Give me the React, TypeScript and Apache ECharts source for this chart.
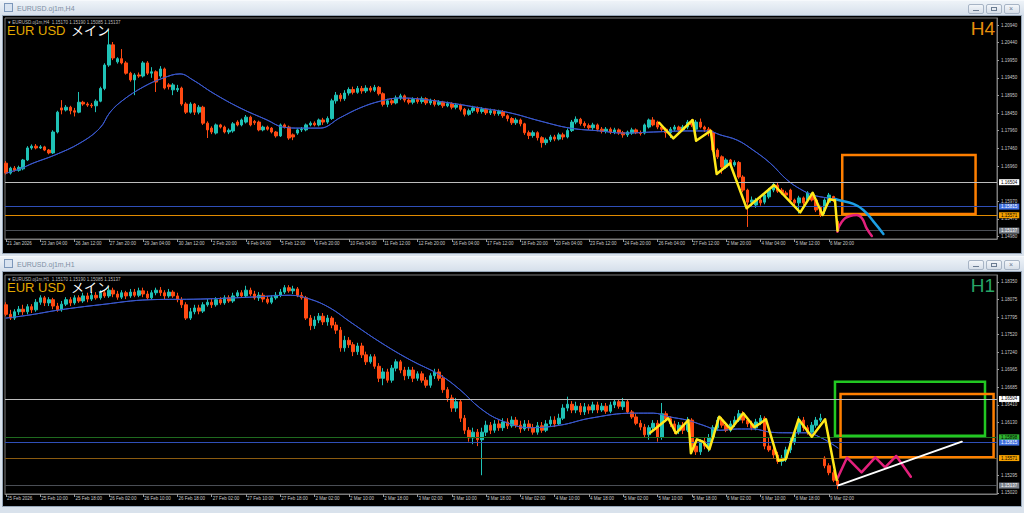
import React, { useEffect, useRef } from 'react';
import * as echarts from 'echarts';

// ---------------- DATA ----------------
const h4Dates = ['21 Jan 2026','23 Jan 04:00','26 Jan 12:00','27 Jan 20:00','29 Jan 04:00','30 Jan 12:00','2 Feb 20:00','4 Feb 04:00','5 Feb 12:00','6 Feb 20:00','10 Feb 04:00','11 Feb 12:00','12 Feb 20:00','16 Feb 04:00','17 Feb 12:00','18 Feb 20:00','20 Feb 04:00','23 Feb 12:00','24 Feb 20:00','26 Feb 04:00','27 Feb 12:00','2 Mar 20:00','4 Mar 04:00','5 Mar 12:00','6 Mar 20:00'];
const h1Dates = ['25 Feb 2026','25 Feb 10:00','25 Feb 18:00','26 Feb 02:00','26 Feb 10:00','26 Feb 18:00','27 Feb 02:00','27 Feb 10:00','27 Feb 18:00','2 Mar 02:00','2 Mar 10:00','2 Mar 18:00','3 Mar 02:00','3 Mar 10:00','3 Mar 18:00','4 Mar 02:00','4 Mar 10:00','4 Mar 18:00','5 Mar 02:00','5 Mar 10:00','5 Mar 18:00','6 Mar 02:00','6 Mar 10:00','6 Mar 18:00','9 Mar 02:00'];

const h4Ticks = [1.2094,1.2044,1.1995,1.1945,1.1895,1.1845,1.1796,1.1746,1.1696,1.1597,1.1547,1.1498];
const h1Ticks = [1.1835,1.18075,1.17795,1.1752,1.1724,1.16965,1.16685,1.1641,1.1613,1.15295,1.1502];

const h4Levels = [1.16504, 1.15815, 1.15571, 1.15137];
const h1Levels = [1.16504, 1.15898, 1.15815, 1.15571, 1.15137];

// H4 candles [open, close, low, high]
const h4Ohlc = [
[1.1704,1.1676,1.1672,1.1710],[1.1676,1.1690,1.1672,1.1694],[1.1690,1.1684,1.1680,1.1696],[1.1684,1.1692,1.1680,1.1697],[1.1688,1.1713,1.1684,1.1716],
[1.1713,1.1747,1.1710,1.1752],[1.1747,1.1752,1.1742,1.1757],[1.1752,1.1747,1.1743,1.1758],[1.1747,1.1750,1.1744,1.1755],[1.1750,1.1741,1.1738,1.1753],
[1.1741,1.1733,1.1729,1.1744],[1.1733,1.1792,1.1730,1.1797],[1.1792,1.1848,1.1788,1.1852],[1.1860,1.1854,1.1842,1.1882],[1.1854,1.1862,1.1850,1.1868],
[1.1862,1.1852,1.1842,1.1866],[1.1852,1.1848,1.1836,1.1860],[1.1848,1.1876,1.1845,1.1905],[1.1876,1.1871,1.1866,1.1880],[1.1871,1.1868,1.1863,1.1876],
[1.1868,1.1866,1.1860,1.1874],[1.1866,1.1879,1.1848,1.1884],[1.1879,1.1915,1.1876,1.1920],[1.1915,1.1981,1.1910,1.1986],[1.1981,1.2038,1.1976,1.2080],
[1.2038,1.2001,1.1995,1.2046],[1.1990,1.1999,1.1985,1.2003],[1.1999,1.1987,1.1983,1.2026],[1.1987,1.1958,1.1954,1.1992],[1.1958,1.1939,1.1934,1.1962],
[1.1939,1.1953,1.1896,1.1958],[1.1953,1.1950,1.1945,1.1960],[1.1950,1.1987,1.1946,1.1992],[1.1987,1.1958,1.1953,1.1992],[1.1958,1.1962,1.1945,1.1975],
[1.1962,1.1933,1.1905,1.1966],[1.1950,1.1970,1.1945,1.1978],[1.1970,1.1916,1.1912,1.1974],[1.1925,1.1920,1.1912,1.1930],[1.1911,1.1925,1.1896,1.1930],
[1.1911,1.1915,1.1905,1.1925],[1.1916,1.1871,1.1866,1.1920],[1.1871,1.1848,1.1843,1.1876],[1.1848,1.1871,1.1844,1.1876],[1.1871,1.1848,1.1840,1.1874],
[1.1848,1.1862,1.1842,1.1868],[1.1862,1.1817,1.1812,1.1866],[1.1817,1.1798,1.1775,1.1822],[1.1803,1.1792,1.1786,1.1808],[1.1789,1.1812,1.1785,1.1816],
[1.1812,1.1806,1.1802,1.1815],[1.1806,1.1792,1.1788,1.1810],[1.1792,1.1797,1.1786,1.1802],[1.1795,1.1815,1.1790,1.1820],[1.1820,1.1812,1.1808,1.1825],
[1.1812,1.1826,1.1808,1.1830],[1.1820,1.1834,1.1816,1.1840],[1.1834,1.1812,1.1808,1.1838],[1.1822,1.1818,1.1812,1.1826],[1.1820,1.1798,1.1794,1.1824],
[1.1798,1.1806,1.1794,1.1810],[1.1806,1.1800,1.1796,1.1810],[1.1803,1.1792,1.1788,1.1806],[1.1792,1.1781,1.1776,1.1795],[1.1781,1.1812,1.1778,1.1816],
[1.1812,1.1806,1.1802,1.1816],[1.1806,1.1775,1.1770,1.1810],[1.1784,1.1778,1.1769,1.1788],[1.1789,1.1798,1.1784,1.1802],[1.1798,1.1800,1.1792,1.1806],
[1.1798,1.1812,1.1794,1.1816],[1.1812,1.1817,1.1808,1.1822],[1.1817,1.1812,1.1808,1.1822],[1.1812,1.1826,1.1808,1.1830],[1.1826,1.1820,1.1812,1.1832],
[1.1820,1.1830,1.1815,1.1836],[1.1830,1.1880,1.1826,1.1886],[1.1880,1.1896,1.1872,1.1905],[1.1896,1.1886,1.1878,1.1902],[1.1886,1.1902,1.1880,1.1910],
[1.1902,1.1912,1.1895,1.1918],[1.1912,1.1904,1.1898,1.1920],[1.1904,1.1915,1.1900,1.1922],[1.1915,1.1908,1.1900,1.1922],[1.1908,1.1916,1.1902,1.1924],
[1.1916,1.1910,1.1904,1.1922],[1.1910,1.1918,1.1905,1.1925],[1.1918,1.1900,1.1895,1.1922],[1.1900,1.1870,1.1864,1.1904],[1.1870,1.1880,1.1862,1.1886],
[1.1880,1.1874,1.1868,1.1888],[1.1874,1.1888,1.1870,1.1895],[1.1888,1.1894,1.1882,1.1900],[1.1894,1.1882,1.1876,1.1898],[1.1882,1.1876,1.1870,1.1888],
[1.1876,1.1884,1.1870,1.1890],[1.1884,1.1878,1.1872,1.1890],[1.1878,1.1886,1.1872,1.1892],[1.1886,1.1874,1.1868,1.1890],[1.1874,1.1880,1.1868,1.1886],
[1.1880,1.1870,1.1864,1.1885],[1.1870,1.1876,1.1866,1.1882],[1.1876,1.1866,1.1860,1.1880],[1.1866,1.1872,1.1862,1.1878],[1.1872,1.1862,1.1856,1.1876],
[1.1862,1.1868,1.1856,1.1874],[1.1868,1.1856,1.1850,1.1872],[1.1856,1.1842,1.1836,1.1860],[1.1842,1.1852,1.1838,1.1858],[1.1852,1.1860,1.1846,1.1866],
[1.1860,1.1850,1.1844,1.1864],[1.1850,1.1856,1.1844,1.1862],[1.1856,1.1846,1.1840,1.1860],[1.1846,1.1852,1.1840,1.1858],[1.1852,1.1844,1.1838,1.1856],
[1.1844,1.1850,1.1838,1.1855],[1.1850,1.1838,1.1832,1.1854],[1.1838,1.1830,1.1822,1.1842],[1.1830,1.1818,1.1812,1.1834],[1.1818,1.1826,1.1812,1.1832],
[1.1826,1.1815,1.1808,1.1830],[1.1815,1.1790,1.1784,1.1818],[1.1790,1.1782,1.1772,1.1796],[1.1782,1.1790,1.1776,1.1796],[1.1790,1.1776,1.1768,1.1794],
[1.1776,1.1762,1.1748,1.1780],[1.1762,1.1770,1.1755,1.1776],[1.1770,1.1778,1.1764,1.1784],[1.1778,1.1772,1.1766,1.1784],[1.1772,1.1784,1.1768,1.1790],
[1.1784,1.1778,1.1770,1.1790],[1.1778,1.1796,1.1774,1.1802],[1.1796,1.1820,1.1792,1.1826],[1.1820,1.1828,1.1814,1.1836],[1.1828,1.1816,1.1810,1.1832],
[1.1816,1.1810,1.1804,1.1822],[1.1810,1.1804,1.1798,1.1816],[1.1804,1.1812,1.1798,1.1818],[1.1812,1.1800,1.1794,1.1816],[1.1800,1.1794,1.1788,1.1806],
[1.1794,1.1800,1.1788,1.1806],[1.1800,1.1792,1.1786,1.1805],[1.1792,1.1798,1.1786,1.1804],[1.1798,1.1790,1.1784,1.1802],[1.1790,1.1784,1.1776,1.1795],
[1.1784,1.1792,1.1778,1.1796],[1.1789,1.1798,1.1784,1.1804],[1.1798,1.1790,1.1786,1.1802],[1.1790,1.1788,1.1782,1.1796],[1.1789,1.1812,1.1785,1.1816],
[1.1806,1.1826,1.1802,1.1830],[1.1826,1.1812,1.1808,1.1834],[1.1820,1.1806,1.1800,1.1824],[1.1806,1.1800,1.1792,1.1810],[1.1800,1.1790,1.1776,1.1804],
[1.1790,1.1800,1.1775,1.1806],[1.1800,1.1806,1.1794,1.1812],[1.1806,1.1798,1.1794,1.1810],[1.1798,1.1806,1.1794,1.1812],[1.1806,1.1820,1.1800,1.1826],
[1.1820,1.1812,1.1806,1.1828],[1.1800,1.1820,1.1768,1.1826],[1.1820,1.1806,1.1802,1.1830],[1.1806,1.1800,1.1792,1.1810],[1.1800,1.1790,1.1780,1.1806],
[1.1790,1.1741,1.1736,1.1796],[1.1741,1.1722,1.1716,1.1746],[1.1722,1.1693,1.1674,1.1726],[1.1693,1.1713,1.1688,1.1718],[1.1713,1.1699,1.1694,1.1716],
[1.1699,1.1706,1.1694,1.1712],[1.1706,1.1665,1.1660,1.1710],[1.1665,1.1628,1.1622,1.1670],[1.1628,1.1594,1.1524,1.1632],[1.1594,1.1600,1.1580,1.1610],
[1.1586,1.1600,1.1578,1.1606],[1.1600,1.1592,1.1584,1.1606],[1.1594,1.1614,1.1588,1.1620],[1.1609,1.1628,1.1604,1.1634],[1.1628,1.1644,1.1622,1.1650],
[1.1642,1.1625,1.1620,1.1648],[1.1628,1.1620,1.1615,1.1634],[1.1620,1.1614,1.1608,1.1626],[1.1628,1.1600,1.1596,1.1632],[1.1600,1.1592,1.1586,1.1604],
[1.1592,1.1606,1.1562,1.1612],[1.1606,1.1592,1.1586,1.1610],[1.1600,1.1620,1.1595,1.1625],[1.1614,1.1600,1.1596,1.1620],[1.1600,1.1572,1.1566,1.1604],
[1.1580,1.1558,1.1552,1.1584],[1.1570,1.1600,1.1560,1.1605],[1.1594,1.1614,1.1590,1.1620],[1.1610,1.1600,1.1594,1.1612],[1.1540,1.15137,1.15085,1.1545]
];

// H1 candles [open, close, low, high]
const h1Ohlc = [
[1.1799,1.1784,1.1781,1.1803],[1.1784,1.1778,1.1775,1.1791],[1.1778,1.1788,1.1775,1.1792],[1.1788,1.1792,1.1783,1.1797],[1.1792,1.1788,1.1783,1.1799],
[1.1788,1.1796,1.1784,1.1800],[1.1796,1.1791,1.1786,1.1800],[1.1791,1.1803,1.1788,1.1808],[1.1803,1.1810,1.1799,1.1814],[1.1810,1.1802,1.1797,1.1813],
[1.1802,1.1807,1.1797,1.1811],[1.1807,1.1797,1.1792,1.1810],[1.1797,1.1791,1.1788,1.1802],[1.1791,1.1800,1.1788,1.1805],[1.1800,1.1807,1.1797,1.1811],
[1.1807,1.1802,1.1797,1.1811],[1.1802,1.1810,1.1799,1.1814],[1.1810,1.1805,1.1802,1.1814],[1.1805,1.1813,1.1802,1.1818],[1.1813,1.1808,1.1803,1.1818],
[1.1808,1.1814,1.1805,1.1819],[1.1814,1.1810,1.1807,1.1819],[1.1810,1.1818,1.1807,1.1822],[1.1818,1.1813,1.1810,1.1822],[1.1813,1.1822,1.1810,1.1827],
[1.1822,1.1816,1.1811,1.1826],[1.1816,1.1811,1.1807,1.1821],[1.1811,1.1818,1.1808,1.1822],[1.1818,1.1813,1.1808,1.1821],[1.1813,1.1819,1.1810,1.1824],
[1.1819,1.1814,1.1811,1.1824],[1.1814,1.1821,1.1811,1.1826],[1.1821,1.1816,1.1811,1.1826],[1.1816,1.1810,1.1807,1.1821],[1.1810,1.1818,1.1807,1.1822],
[1.1818,1.1822,1.1814,1.1826],[1.1822,1.1818,1.1813,1.1827],[1.1818,1.1813,1.1808,1.1822],[1.1813,1.1819,1.1810,1.1824],[1.1819,1.1813,1.1810,1.1822],
[1.1813,1.1807,1.1803,1.1818],[1.1807,1.1799,1.1794,1.1811],[1.1799,1.1778,1.1775,1.1803],[1.1778,1.1788,1.1775,1.1794],[1.1788,1.1794,1.1784,1.1799],
[1.1794,1.1789,1.1784,1.1799],[1.1789,1.1799,1.1786,1.1803],[1.1799,1.1803,1.1796,1.1808],[1.1803,1.1799,1.1794,1.1808],[1.1799,1.1807,1.1796,1.1811],
[1.1807,1.1802,1.1799,1.1811],[1.1802,1.1810,1.1799,1.1814],[1.1810,1.1805,1.1802,1.1814],[1.1805,1.1813,1.1802,1.1818],[1.1813,1.1818,1.1810,1.1822],
[1.1818,1.1813,1.1810,1.1822],[1.1813,1.1822,1.1810,1.1829],[1.1822,1.1816,1.1813,1.1826],[1.1816,1.1810,1.1807,1.1821],[1.1810,1.1814,1.1805,1.1819],
[1.1814,1.1808,1.1803,1.1818],[1.1808,1.1803,1.1800,1.1813],[1.1803,1.1810,1.1800,1.1814],[1.1810,1.1814,1.1807,1.1819],[1.1814,1.1819,1.1811,1.1824],
[1.1819,1.1826,1.1816,1.1830],[1.1826,1.1821,1.1818,1.1830],[1.1821,1.1824,1.1816,1.1829],[1.1824,1.1814,1.1811,1.1827],[1.1814,1.1810,1.1807,1.1819],
[1.1810,1.1778,1.1775,1.1813],[1.1778,1.1766,1.1759,1.1783],[1.1766,1.1775,1.1761,1.1781],[1.1775,1.1781,1.1770,1.1786],[1.1781,1.1772,1.1767,1.1786],
[1.1772,1.1778,1.1766,1.1783],[1.1778,1.1767,1.1762,1.1781],[1.1767,1.1759,1.1753,1.1772],[1.1759,1.1731,1.1725,1.1764],[1.1731,1.1743,1.1725,1.1750],
[1.1743,1.1736,1.1731,1.1748],[1.1736,1.1725,1.1718,1.1740],[1.1725,1.1734,1.1720,1.1739],[1.1734,1.1720,1.1715,1.1739],[1.1720,1.1709,1.1704,1.1725],
[1.1709,1.1717,1.1706,1.1721],[1.1717,1.1702,1.1698,1.1721],[1.1702,1.1683,1.1677,1.1707],[1.1683,1.1693,1.1672,1.1699],[1.1693,1.1680,1.1676,1.1698],
[1.1680,1.1699,1.1676,1.1704],[1.1699,1.1709,1.1694,1.1713],[1.1709,1.1696,1.1691,1.1712],[1.1696,1.1687,1.1680,1.1701],[1.1687,1.1696,1.1682,1.1701],
[1.1696,1.1683,1.1677,1.1701],[1.1683,1.1690,1.1679,1.1694],[1.1690,1.1680,1.1676,1.1694],[1.1680,1.1672,1.1668,1.1685],[1.1672,1.1687,1.1668,1.1691],
[1.1687,1.1693,1.1682,1.1698],[1.1693,1.1683,1.1679,1.1698],[1.1683,1.1665,1.1660,1.1688],[1.1665,1.1652,1.1646,1.1669],[1.1652,1.1636,1.1630,1.1657],
[1.1636,1.1646,1.1630,1.1652],[1.1646,1.1620,1.1614,1.1650],[1.1620,1.1601,1.1595,1.1625],[1.1601,1.1589,1.1583,1.1606],[1.1589,1.1598,1.1579,1.1605],
[1.1598,1.1586,1.1576,1.1603],[1.1586,1.1598,1.1530,1.1605],[1.1598,1.1609,1.1592,1.1616],[1.1609,1.1601,1.1595,1.1614],[1.1601,1.1611,1.1597,1.1617],
[1.1611,1.1605,1.1600,1.1617],[1.1605,1.1614,1.1600,1.1620],[1.1614,1.1608,1.1603,1.1620],[1.1608,1.1617,1.1605,1.1623],[1.1617,1.1609,1.1605,1.1622],
[1.1609,1.1603,1.1597,1.1616],[1.1603,1.1611,1.1600,1.1617],[1.1611,1.1605,1.1600,1.1617],[1.1605,1.1598,1.1594,1.1611],[1.1598,1.1608,1.1594,1.1614],
[1.1608,1.1601,1.1597,1.1614],[1.1601,1.1611,1.1598,1.1617],[1.1611,1.1617,1.1606,1.1623],[1.1617,1.1611,1.1606,1.1623],[1.1611,1.1620,1.1608,1.1627],
[1.1620,1.1636,1.1617,1.1642],[1.1636,1.1642,1.1631,1.1654],[1.1642,1.1633,1.1628,1.1647],[1.1633,1.1639,1.1628,1.1646],[1.1639,1.1630,1.1625,1.1644],
[1.1630,1.1638,1.1625,1.1644],[1.1638,1.1633,1.1627,1.1642],[1.1633,1.1641,1.1628,1.1646],[1.1641,1.1633,1.1628,1.1646],[1.1633,1.1639,1.1630,1.1644],
[1.1639,1.1631,1.1627,1.1644],[1.1631,1.1641,1.1628,1.1646],[1.1641,1.1646,1.1636,1.1650],[1.1646,1.1639,1.1635,1.1650],[1.1638,1.1646,1.1633,1.1652],
[1.1646,1.1630,1.1627,1.1650],[1.1630,1.1622,1.1619,1.1633],[1.1622,1.1612,1.1609,1.1627],[1.1612,1.1606,1.1601,1.1617],[1.1606,1.1594,1.1589,1.1611],
[1.1594,1.1605,1.1586,1.1609],[1.1605,1.1612,1.1601,1.1617],[1.1612,1.1590,1.1583,1.1617],[1.1590,1.1627,1.1586,1.1644],[1.1627,1.1619,1.1614,1.1631],
[1.1619,1.1611,1.1606,1.1623],[1.1611,1.1600,1.1595,1.1616],[1.1600,1.1609,1.1595,1.1614],[1.1609,1.1601,1.1595,1.1614],[1.1601,1.1617,1.1598,1.1622],
[1.1617,1.1576,1.1570,1.1620],[1.1576,1.1567,1.1562,1.1586],[1.1567,1.1583,1.1562,1.1587],[1.1583,1.1576,1.1571,1.1589],[1.1576,1.1589,1.1567,1.1595],
[1.1589,1.1605,1.1586,1.1609],[1.1605,1.1617,1.1600,1.1622],[1.1617,1.1609,1.1605,1.1622],[1.1609,1.1601,1.1598,1.1614],[1.1601,1.1611,1.1598,1.1616],
[1.1611,1.1617,1.1606,1.1623],[1.1617,1.1627,1.1614,1.1633],[1.1627,1.1617,1.1612,1.1631],[1.1617,1.1611,1.1606,1.1622],[1.1611,1.1605,1.1601,1.1616],
[1.1605,1.1614,1.1601,1.1619],[1.1614,1.1620,1.1609,1.1625],[1.1620,1.1576,1.1571,1.1623],[1.1576,1.1570,1.1567,1.1589],[1.1570,1.1562,1.1557,1.1578],
[1.1562,1.1552,1.1548,1.1567],[1.1552,1.1557,1.1545,1.1562],[1.1557,1.1570,1.1551,1.1575],[1.1570,1.1583,1.1565,1.1589],[1.1583,1.1598,1.1578,1.1603],
[1.1598,1.1617,1.1594,1.1623],[1.1617,1.1605,1.1600,1.1622],[1.1605,1.1598,1.1594,1.1609],[1.1598,1.1609,1.1594,1.1614],[1.1609,1.1617,1.1605,1.1622],
[1.1617,1.1620,1.1614,1.1627],[1.1557,1.1545,1.1541,1.1560],[1.1545,1.1534,1.1530,1.1549],[1.1534,1.1522,1.1519,1.1538],[1.1522,1.15137,1.1508,1.1526]
];

// Moving average readings [bar, price]
const h4Ma = [[0,1.1676],[3.3,1.1688],[6.3,1.1704],[11.4,1.1727],[17.3,1.1761],[21.9,1.1803],[24.3,1.1848],[27.3,1.1882],[32,1.1919],[36.6,1.1944],[40.6,1.1956],[43.6,1.1939],[48.3,1.1902],[54.6,1.1860],[60.9,1.1826],[64.6,1.1806],[68.6,1.1803],[73.3,1.1803],[77.9,1.1832],[82.6,1.1860],[87.3,1.1879],[91.9,1.1888],[96.6,1.1885],[103.6,1.1874],[110.6,1.1860],[117.6,1.1846],[124.6,1.1823],[131.6,1.1803],[138.6,1.1795],[143.9,1.1789],[151,1.1792],[158.9,1.1795],[163.8,1.1795],[166.6,1.1784],[170.6,1.1769],[174.3,1.1741],[178.3,1.1704],[182.2,1.1657],[185.3,1.1631],[188.3,1.1614],[191.6,1.1606],[193.4,1.1603]];
const h1Ma = [[0,1.1778],[5.6,1.1783],[12.6,1.1791],[21.9,1.1799],[33.6,1.1807],[45.3,1.1808],[56.9,1.1811],[66.3,1.1814],[70.9,1.1808],[75.6,1.1794],[80.3,1.1772],[87.3,1.1740],[94.3,1.1712],[101.3,1.1688],[105.9,1.1665],[110.6,1.1636],[115.3,1.1617],[122.3,1.1605],[129.3,1.1609],[136.3,1.1620],[146.3,1.1628],[151,1.1628],[154.9,1.1622],[158.9,1.1617],[162.6,1.1609],[166.6,1.1601],[170.6,1.1603],[174.3,1.1603],[178.3,1.1598],[182.2,1.1597],[186.9,1.1597],[189.9,1.1590],[192.3,1.1581],[194.1,1.1573]];

// Hand-drawn analysis lines [bar, price]
const h4Wave = [[152.4,1.18182],[155.7,1.17742],[160.2,1.18259],[161.0,1.17674],[164.4,1.17957],[165.8,1.16735],[168.9,1.17037],[172.8,1.15766],[179.2,1.16424],[185.3,1.15653],[188.2,1.16207],[190.5,1.15577],[192.1,1.16020],[193.4,1.15991],[194.0,1.15134]];
const h4MaForecast = [[193.4,1.1603],[194.2,1.1600],[197.7,1.1589],[200.0,1.1572],[202.4,1.1539],[204.7,1.1504]];
const h4Forecast = [[193.97,1.15106],[195.0,1.15388],[196.9,1.15549],[198.5,1.15577],[199.7,1.15484],[200.8,1.15202],[202.0,1.14985]];
const h4Box = [[195.1,1.17271],[226.2,1.15606]];

const h1Wave = [[150.3,1.15972],[154.5,1.16199],[156.3,1.15962],[159.2,1.16172],[159.8,1.15646],[161.2,1.15867],[162.6,1.15829],[164.1,1.15709],[166.4,1.16224],[169.1,1.16025],[172.0,1.16278],[174.6,1.16057],[177.3,1.16183],[180.2,1.15530],[181.9,1.15552],[184.9,1.16183],[188.0,1.15908],[191.1,1.16183],[193.8,1.15225]];
const h1Forecast = [[193.8,1.15225],[196.2,1.15577],[199.6,1.15346],[202.8,1.15583],[205.1,1.15425],[207.7,1.15604],[211.1,1.15277]];
const h1Support = [[194.2,1.15141],[223.0,1.15830]];
const h1GreenBox = [[193.4,1.16776],[228.4,1.15924]];
const h1OrangeBox = [[194.7,1.16582],[230.4,1.15583]];

// ---------------- STYLE / LAYOUT ----------------
const FONT = 'Liberation Sans, Arial, Helvetica, sans-serif';
const X_MIN = -0.23;
const X_MAX = 231.2;
const BULL = '#1FC2B6';
const BEAR = '#FF4A12';

const levelStyleH4 = [
  { line: '#BDBDBD', bg: '#FFFFFF', fg: '#000000' },
  { line: '#2F4FB8', bg: '#3F6FE0', fg: '#FFFFFF' },
  { line: '#E08A00', bg: '#F5A000', fg: '#000000' },
  { line: '#4A4E55', bg: '#7C828C', fg: '#FFFFFF' },
];
const levelStyleH1 = [
  { line: '#BDBDBD', bg: '#FFFFFF', fg: '#000000' },
  { line: '#1F6A1F', bg: '#2DB52D', fg: '#000000' },
  { line: '#2F4FB8', bg: '#3F6FE0', fg: '#FFFFFF' },
  { line: '#8A5A10', bg: '#F5A000', fg: '#000000' },
  { line: '#4A4E55', bg: '#7C828C', fg: '#FFFFFF' },
];

function xAxisFor(gridIndex: number, labels: string[]) {
  const ticks = labels.map((_, k) => k * 8);
  return {
    type: 'value', gridIndex, min: X_MIN, max: X_MAX,
    axisLine: { show: true, onZero: false, lineStyle: { color: '#7A7A7A', width: 1 } },
    axisTick: { show: true, customValues: ticks, length: 3, lineStyle: { color: '#9A9A9A' } },
    axisLabel: {
      show: true, customValues: ticks,
      formatter: (v: number) => labels[Math.round(v / 8)] ?? '',
      color: '#C8C8C8', fontSize: 4.5, fontFamily: FONT, align: 'left', margin: 2, padding: [0, 0, 0, 1],
    },
    splitLine: { show: false },
  };
}

function yAxisFor(gridIndex: number, ticks: number[], min: number, max: number) {
  return {
    type: 'value', gridIndex, position: 'right', min, max,
    axisLine: { show: true, onZero: false, lineStyle: { color: '#7A7A7A', width: 1 } },
    axisTick: { show: true, customValues: ticks, length: 2, lineStyle: { color: '#9A9A9A' } },
    axisLabel: {
      show: true, customValues: ticks, formatter: (v: number) => v.toFixed(5),
      color: '#C8C8C8', fontSize: 4.5, fontFamily: FONT, margin: 4,
    },
    splitLine: { show: false },
  };
}

function levelLines(levels: number[], styles: { line: string; bg: string; fg: string }[]) {
  return {
    silent: true, symbol: ['none', 'none'], animation: false, precision: 5,
    data: levels.map((v, k) => ({
      yAxis: v,
      lineStyle: { color: styles[k].line, width: 1, type: 'solid' },
      label: {
        show: true, position: 'end', distance: 2, formatter: v.toFixed(5),
        backgroundColor: styles[k].bg, color: styles[k].fg, fontSize: 4.5, fontFamily: FONT,
        padding: [1, 2, 0, 2], lineHeight: 5,
      },
    })),
  };
}

function boxArea(box: number[][], color: string) {
  return [[
    { coord: box[0], itemStyle: { color: 'rgba(0,0,0,0)', borderColor: color, borderWidth: 2.5 } },
    { coord: box[1] },
  ]];
}

function candles(idx: number, data: number[][]) {
  return {
    type: 'candlestick', xAxisIndex: idx, yAxisIndex: idx,
    data: data.map((d, i) => [i, d[0], d[1], d[2], d[3]]),
    encode: { x: 0, y: [1, 2, 3, 4] },
    barWidth: 3,
    itemStyle: { color: BULL, color0: BEAR, borderColor: BULL, borderColor0: BEAR, borderWidth: 1 },
    z: 3,
  };
}

function line(idx: number, data: number[][], color: string, width: number, smooth: number | boolean, z = 6, extra: any = {}) {
  return {
    type: 'line', xAxisIndex: idx, yAxisIndex: idx, data, smooth,
    symbol: 'none', silent: true, z,
    lineStyle: { color, width, cap: 'round', join: 'round' },
    ...extra,
  };
}

function textEl(x: number, y: number, text: string, fill: string, size: number, extra: any = {}) {
  return { type: 'text', x, y, z: 50, silent: true, style: { text, fill, fontSize: size, fontFamily: FONT, verticalAlign: 'middle', ...extra } };
}

function buildOption() {
  const jp = 'Liberation Sans, Noto Sans CJK JP, sans-serif';
  return {
    animation: false,
    backgroundColor: 'transparent',
    grid: [
      { left: 5, top: 18, width: 992, height: 221, show: true, borderColor: '#7A7A7A', borderWidth: 1, backgroundColor: 'transparent' },
      { left: 5, top: 275, width: 992, height: 219, show: true, borderColor: '#7A7A7A', borderWidth: 1, backgroundColor: 'transparent' },
    ],
    xAxis: [xAxisFor(0, h4Dates), xAxisFor(1, h1Dates)],
    yAxis: [yAxisFor(0, h4Ticks, 1.149, 1.21138), yAxisFor(1, h1Ticks, 1.15004, 1.1846)],
    graphic: [
      textEl(17, 8.5, 'EURUSD.oj1m,H4', '#7D8FA4', 7),
      textEl(17, 264.5, 'EURUSD.oj1m,H1', '#7D8FA4', 7),
      textEl(8, 22.5, '▾ EURUSD.oj1m,H4  1.15170 1.15190 1.15085 1.15137', '#BDBDBD', 4.5),
      textEl(8, 279.5, '▾ EURUSD.oj1m,H1  1.15170 1.15190 1.15085 1.15137', '#BDBDBD', 4.5),
      textEl(7, 30.5, 'EUR USD', '#E2A800', 13),
      { type: 'text', x: 71, y: 30.5, z: 50, silent: true, style: { text: 'メイン', fill: '#FFFFFF', fontSize: 13, fontFamily: jp, verticalAlign: 'middle' } },
      textEl(7, 287.5, 'EUR USD', '#E2A800', 13),
      { type: 'text', x: 71, y: 287.5, z: 50, silent: true, style: { text: 'メイン', fill: '#FFFFFF', fontSize: 13, fontFamily: jp, verticalAlign: 'middle' } },
      textEl(995, 28, 'H4', '#E8900C', 19, { align: 'right' }),
      textEl(995, 285, 'H1', '#27A466', 19, { align: 'right' }),
    ],
    series: [
      line(0, h4Ma, '#3A58CC', 1, 0.4, 2, {
        markLine: levelLines(h4Levels, levelStyleH4),
        markArea: { silent: true, data: boxArea(h4Box, '#FF7F00') },
      }),
      candles(0, h4Ohlc),
      line(0, h4Ma, '#3A58CC', 1, 0.4, 4),
      line(0, h4MaForecast, '#1C9FE4', 2.5, 0.5),
      line(0, h4Wave, '#FFE81A', 2.5, false, 7),
      line(0, h4Forecast, '#E4207C', 2.5, 0.5),
      line(1, h1Ma, '#3A58CC', 1, 0.4, 2, {
        markLine: levelLines(h1Levels, levelStyleH1),
        markArea: { silent: true, data: [...boxArea(h1GreenBox, '#22C822'), ...boxArea(h1OrangeBox, '#FF7F00')] },
      }),
      candles(1, h1Ohlc),
      line(1, h1Ma, '#3A58CC', 1, 0.4, 4),
      line(1, h1Wave, '#FFE81A', 2.5, false, 7),
      line(1, h1Forecast, '#E4207C', 2.5, false),
      line(1, h1Support, '#FFFFFF', 2, false),
    ],
  };
}

// ---------------- WINDOW CHROME ----------------
function Chrome({ top, bottom }: { top: number; bottom: number }) {
  const btn = (left: number, kind: number) => (
    <div key={left} style={{ position: 'absolute', left, top: top + 4, width: 16, height: 10, boxSizing: 'border-box', border: '1px solid #A7B4C5', borderRadius: 2, background: 'linear-gradient(#F3F6FA,#D6DEE8)' }}>
      {kind === 0 && <div style={{ position: 'absolute', left: 4, top: 5, width: 6, height: 1, background: '#6B7C92' }} />}
      {kind === 1 && <div style={{ position: 'absolute', left: 4, top: 2, width: 6, height: 4, border: '1px solid #6B7C92', boxSizing: 'border-box' }} />}
      {kind === 2 && <div style={{ position: 'absolute', left: 4, top: 0, fontSize: 7, lineHeight: '8px', color: '#6B7C92', fontFamily: 'Arial' }}>×</div>}
    </div>
  );
  return (
    <>
      <div style={{ position: 'absolute', left: 0, top, width: 1024, height: 16, background: 'linear-gradient(#EEF3F8,#D4DEEA)', borderTop: '1px solid #F6F9FC', boxSizing: 'border-box' }} />
      <div style={{ position: 'absolute', left: 4, top: top + 3, width: 9, height: 9, border: '1px solid #7C97BA', background: '#D8E3F0', boxSizing: 'border-box' }} />
      {btn(968, 0)}
      {btn(986, 1)}
      {btn(1004, 2)}
      <div style={{ position: 'absolute', left: 3, top: top + 16, width: 1018, height: bottom - top - 16, background: '#000', outline: '1px solid #97A6B8' }} />
    </>
  );
}

export default function App() {
  const ref = useRef<HTMLDivElement>(null);
  useEffect(() => {
    document.body.style.margin = '0';
    const chart = echarts.init(ref.current as HTMLDivElement, undefined, { renderer: 'svg', width: 1024, height: 513 });
    chart.setOption(buildOption() as any);
    return () => chart.dispose();
  }, []);
  return (
    <div style={{ position: 'relative', width: 1024, height: 513, background: '#D9E2EC', overflow: 'hidden' }}>
      <Chrome top={0} bottom={253} />
      <Chrome top={256} bottom={506} />
      <div ref={ref} style={{ position: 'absolute', left: 0, top: 0, width: 1024, height: 513 }} />
    </div>
  );
}
